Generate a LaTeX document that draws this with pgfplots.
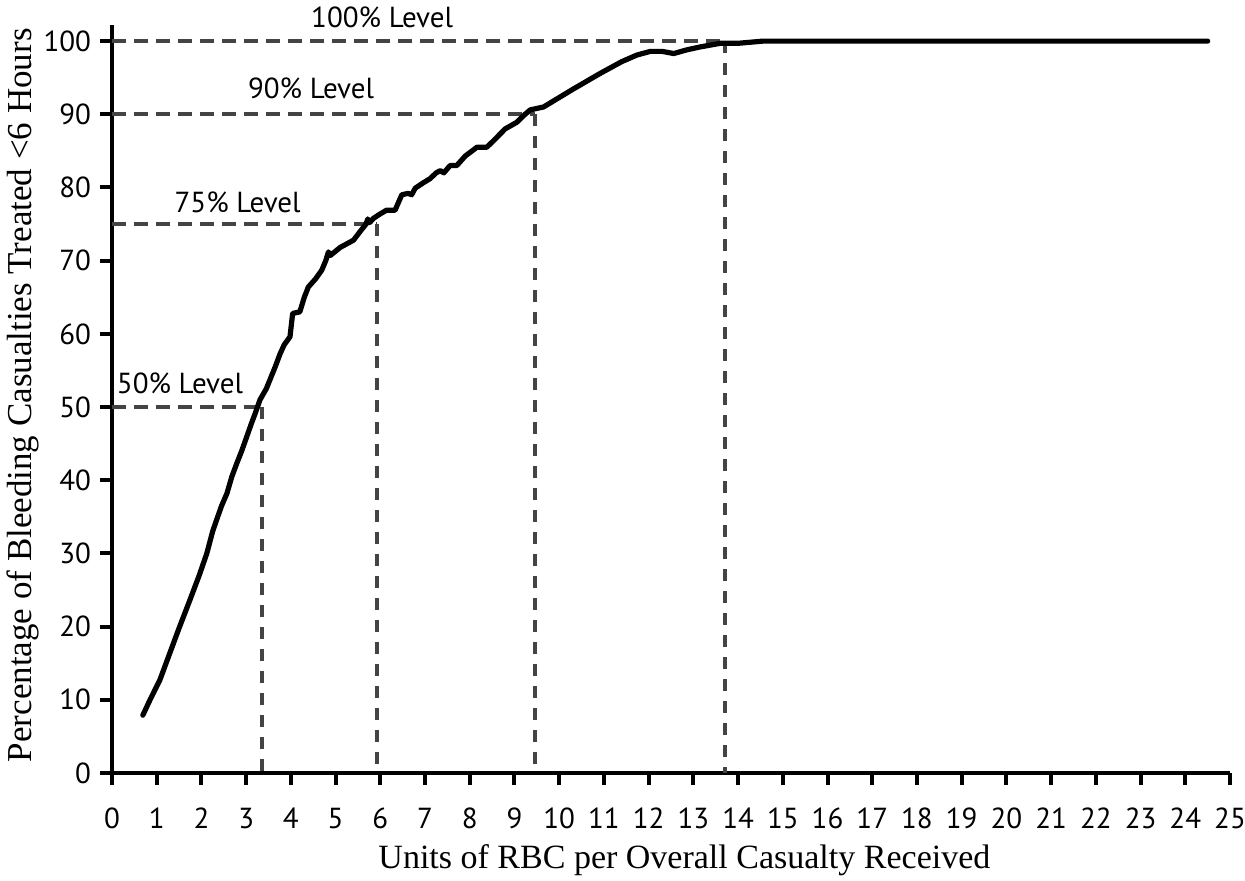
\documentclass[border=0pt]{standalone}
\usepackage{fontspec}
\setmainfont{PT Sans}
\newfontfamily\timesf{Liberation Serif}
\usepackage{pgfplots}
\pgfplotsset{compat=1.18}
\definecolor{dashgray}{HTML}{444444}
\begin{document}
\begin{tikzpicture}
\path[use as bounding box] (-56pt,-53.5pt) rectangle (566.5pt,386.5pt);
\begin{axis}[
  scale only axis,
  width=559pt, height=374pt,
  xmin=0, xmax=25, ymin=0, ymax=102.2,
  axis x line=bottom, axis y line=left,
  axis line style={-, line width=2pt, black},
  xtick={0,1,...,25}, ytick={0,10,...,100},
  tick align=outside, major tick length=6pt,
  tick style={line width=2pt, black},
  /pgf/number format/assume math mode=true,
  ticklabel style={font=\fontsize{14.5}{16}\selectfont},
  xticklabel style={yshift=-8pt},
  yticklabel style={xshift=-1pt},
  xlabel={Units of RBC per Overall Casualty Received},
  ylabel={Percentage of Bleeding Casualties Treated <6 Hours},
  xlabel style={font=\timesf\fontsize{17}{20}\selectfont, at={(axis description cs:0.512,-0.116)}, anchor=center},
  ylabel style={font=\timesf\fontsize{17.5}{20}\selectfont, at={(axis description cs:-0.0796,0.505)}, anchor=center},
  clip=false,
]
% reference levels
\addplot[dashgray, line width=2pt, dash pattern=on 7pt off 4pt] coordinates {(0,50) (3.36,50)};
\addplot[dashgray, line width=2pt, dash pattern=on 6pt off 5pt] coordinates {(3.36,50) (3.36,0)};
\addplot[dashgray, line width=2pt, dash pattern=on 7pt off 4pt] coordinates {(0,75) (5.93,75)};
\addplot[dashgray, line width=2pt, dash pattern=on 6pt off 5pt] coordinates {(5.93,75) (5.93,0)};
\addplot[dashgray, line width=2pt, dash pattern=on 7pt off 4pt] coordinates {(0,90) (9.46,90)};
\addplot[dashgray, line width=2pt, dash pattern=on 6pt off 5pt] coordinates {(9.46,90) (9.46,0)};
\addplot[dashgray, line width=2pt, dash pattern=on 7pt off 4pt] coordinates {(0,100) (13.71,100)};
\addplot[dashgray, line width=2pt, dash pattern=on 6pt off 5pt] coordinates {(13.71,100) (13.71,0)};
% cumulative curve
\addplot[black, line width=2.6pt, line join=round, line cap=round] coordinates {
(0.69,7.9) (0.85,10) (1.07,12.7) (1.3,16.5) (1.5,19.8) (1.74,23.6) (1.95,27)
(2.12,30) (2.25,33) (2.34,34.6) (2.45,36.5) (2.57,38.2) (2.68,40.5) (2.79,42.3)
(2.9,44) (3.01,45.9) (3.12,47.8) (3.2,49.1) (3.31,51) (3.45,52.5) (3.53,53.7)
(3.65,55.5) (3.76,57.3) (3.85,58.5) (3.98,59.6) (4.04,62.8) (4.2,63) (4.3,65)
(4.39,66.4) (4.55,67.5) (4.69,68.7) (4.78,70) (4.84,71.2) (4.88,70.7) (5.1,71.8)
(5.4,72.8) (5.55,74) (5.68,75) (5.72,75.7) (5.76,75.2) (5.85,75.8) (6.0,76.4)
(6.14,76.9) (6.33,76.9) (6.48,79) (6.62,79.2) (6.7,79) (6.78,79.9) (6.95,80.6)
(7.11,81.2) (7.25,82) (7.34,82.3) (7.42,82) (7.56,83) (7.71,83) (7.9,84.3)
(8.16,85.5) (8.38,85.5) (8.55,86.5) (8.79,88) (9.05,88.9) (9.2,89.8) (9.35,90.6)
(9.5,90.8) (9.65,91) (10.3,93.4) (10.92,95.6) (11.4,97.2) (11.74,98.1) (12.04,98.6)
(12.3,98.6) (12.56,98.3) (12.85,98.8) (13.15,99.2) (13.6,99.7) (14.0,99.7)
(14.56,100) (24.5,100)
};
\node[anchor=base, font=\fontsize{14.5}{16}\selectfont] at (axis cs:6.04,101.8) {100\% Level};
\node[anchor=base, font=\fontsize{14.5}{16}\selectfont] at (axis cs:4.45,92.2) {90\% Level};
\node[anchor=base, font=\fontsize{14.5}{16}\selectfont] at (axis cs:2.81,76.6) {75\% Level};
\node[anchor=base, font=\fontsize{14.5}{16}\selectfont] at (axis cs:1.52,51.9) {50\% Level};
\end{axis}
\end{tikzpicture}
\end{document}
